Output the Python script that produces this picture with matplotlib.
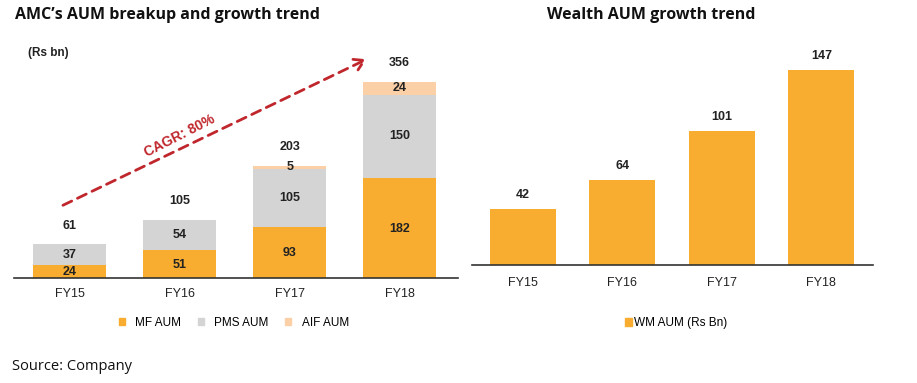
import matplotlib
matplotlib.use("Agg")
import matplotlib.pyplot as plt
from matplotlib.patches import Patch

categories = ["FY15", "FY16", "FY17", "FY18"]
mf_aum = [24, 51, 93, 182]
pms_aum = [37, 54, 105, 150]
aif_aum = [0, 0, 5, 24]
totals = [61, 105, 203, 356]
wm_aum = [42, 64, 101, 147]

ORANGE = "#F8AD31"
GRAY = "#D4D4D4"
PEACH = "#FBD0A7"
RED = "#C0272D"
TXT = "#222222"

W, H = 917, 383
fig = plt.figure(figsize=(W / 100, H / 100), dpi=100)
plt.rcParams['font.family'] = ['Liberation Sans', 'DejaVu Sans']

def fx(px):
    return px / W

def fy(py):
    return 1 - py / H

# ---------- Left chart ----------
l_left, l_right, l_base, l_top = 14, 458, 278, 40
axL = fig.add_axes([fx(l_left), fy(l_base), fx(l_right - l_left), (l_base - l_top) / H])
x = list(range(len(categories)))
bw = 0.664
scaleL = 0.551  # px per unit
axL.set_ylim(0, (l_base - l_top) / scaleL)
axL.set_xlim(-0.505, 3.53)
axL.bar(x, mf_aum, bw, color=ORANGE, label="MF AUM")
axL.bar(x, pms_aum, bw, bottom=mf_aum, color=GRAY, label="PMS AUM")
bot2 = [a + b for a, b in zip(mf_aum, pms_aum)]
axL.bar(x, aif_aum, bw, bottom=bot2, color=PEACH, label="AIF AUM")
fs = 9
for i in x:
    axL.text(i, mf_aum[i] / 2 - 2, str(mf_aum[i]), ha="center", va="center", fontsize=fs, fontweight="bold", color=TXT)
    axL.text(i, mf_aum[i] + pms_aum[i] / 2, str(pms_aum[i]), ha="center", va="center", fontsize=fs, fontweight="bold", color=TXT)
    if aif_aum[i]:
        axL.text(i, bot2[i] + max(aif_aum[i] / 2, 4), str(aif_aum[i]), ha="center", va="center", fontsize=fs, fontweight="bold", color=TXT)
    axL.text(i, totals[i] + 34, str(totals[i]), ha="center", va="center", fontsize=fs, fontweight="bold", color=TXT)
axL.set_xticks(x)
axL.set_xticklabels(categories, fontsize=9, color=TXT)
axL.tick_params(axis="x", length=0, pad=7)
axL.set_yticks([])
for s in ["top", "right", "left"]:
    axL.spines[s].set_visible(False)
axL.spines["bottom"].set_color("#333333")
axL.spines["bottom"].set_linewidth(1.2)
axL.patch.set_alpha(0)

# CAGR arrow
axL.annotate("", xy=(2.7, 397), xytext=(-0.06, 132),
             arrowprops=dict(arrowstyle="->,head_length=0.5,head_width=0.3", color=RED, lw=2,
                             linestyle=(0, (3.5, 2.3)),
                             mutation_scale=14, shrinkA=0, shrinkB=0), annotation_clip=False)
axL.text(1.0, 258, "CAGR: 80%", rotation=27, ha="center", va="center", fontsize=10,
         fontweight="bold", color=RED, rotation_mode="anchor")

fig.text(fx(28), fy(53), "(Rs bn)", fontsize=8.5, fontweight="bold", color=TXT, va="center", ha="left")

fig.legend(handles=[Patch(color=ORANGE, label="MF AUM"), Patch(color=GRAY, label="PMS AUM"),
                    Patch(color=PEACH, label="AIF AUM")],
           loc="center", bbox_to_anchor=(fx(234), fy(323)), ncol=3, frameon=False,
           fontsize=8.5, handlelength=0.5, handleheight=0.5, columnspacing=1.4, handletextpad=0.9)

# ---------- Right chart ----------
r_left, r_right, r_base, r_top = 472, 873, 265, 40
axR = fig.add_axes([fx(r_left), fy(r_base), fx(r_right - r_left), (r_base - r_top) / H])
scaleR = 195 / 147
axR.set_ylim(0, (r_base - r_top) / scaleR)
axR.set_xlim(-0.51, 3.52)
axR.bar(x, wm_aum, 0.665, color=ORANGE)
for i in x:
    axR.text(i, wm_aum[i] + 10.5, str(wm_aum[i]), ha="center", va="center", fontsize=fs, fontweight="bold", color=TXT)
axR.set_xticks(x)
axR.set_xticklabels(categories, fontsize=9, color=TXT)
axR.tick_params(axis="x", length=0, pad=9)
axR.set_yticks([])
for s in ["top", "right", "left"]:
    axR.spines[s].set_visible(False)
axR.spines["bottom"].set_color("#333333")
axR.spines["bottom"].set_linewidth(1.2)
axR.patch.set_alpha(0)

fig.legend(handles=[Patch(color=ORANGE, label="WM AUM (Rs Bn)")], loc="center",
           bbox_to_anchor=(fx(676), fy(323)), frameon=False, fontsize=8.5,
           handlelength=0.6, handleheight=0.6, handletextpad=0.2)

# Titles and source
fig.text(fx(15), fy(15), "AMC\u2019s AUM breakup and growth trend", fontsize=11.5, fontweight="bold",
         family=["Open Sans", "DejaVu Sans"], va="center", ha="left", color="#111111")
fig.text(fx(547), fy(15), "Wealth AUM growth trend", fontsize=11.5, fontweight="bold",
         family=["Open Sans", "DejaVu Sans"], va="center", ha="left", color="#111111")
fig.text(fx(12), fy(366), "Source: Company", fontsize=10.5, family=["Open Sans", "DejaVu Sans"],
         va="center", ha="left", color="#111111")

fig.savefig("out.png", dpi=100)
